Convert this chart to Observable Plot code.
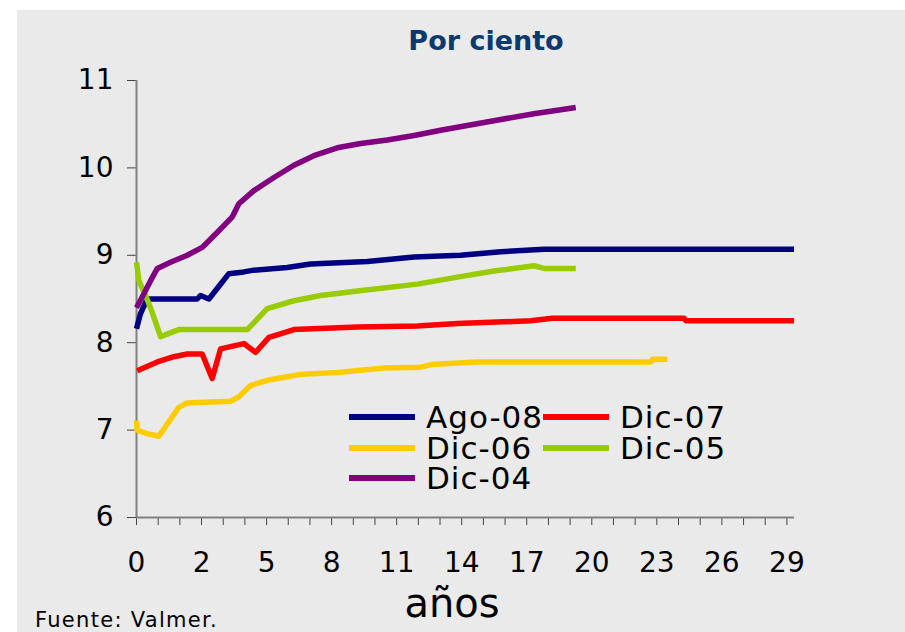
<!DOCTYPE html>
<html><head><meta charset="utf-8">
<script src="https://cdn.jsdelivr.net/npm/d3@7"></script>
<script src="https://cdn.jsdelivr.net/npm/@observablehq/plot@0.6"></script>
<style>
body{margin:0;background:#fff;font-family:"DejaVu Sans",sans-serif;}
#wrap{position:relative;width:905px;height:632px;overflow:hidden;}
#bg{position:absolute;left:17px;top:10px;right:0;bottom:0;background:#eaeaea;}
#chart{position:absolute;left:0;top:0;}
.t{position:absolute;white-space:nowrap;line-height:1;}
#title{left:0;width:972px;text-align:center;top:27px;font-size:27px;font-weight:bold;color:#0a3a6e;}
#xlab{left:0;width:904px;text-align:center;top:583px;font-size:40px;color:#000;}
#src{left:35px;top:610px;font-size:21px;letter-spacing:1.3px;color:#000;}
.lg{position:absolute;height:6px;width:66px;}
.lt{position:absolute;font-size:31px;letter-spacing:1px;line-height:26px;color:#000;white-space:nowrap;}
</style></head>
<body>
<div id="wrap">
<div id="bg"></div>
<div id="chart"></div>
<div class="t" id="title">Por ciento</div>
<div class="t" id="xlab">años</div>
<div class="t" id="src">Fuente: Valmer.</div>
<div id="legend"></div>
</div>
<script>
// Category positions on the x axis (31 categories, labels every 3rd)
const xTickLabels = ["0","2","5","8","11","14","17","20","23","26","29"];
const yTicks = [6,7,8,9,10,11];

const seriesNames = ["Ago-08","Dic-07","Dic-06","Dic-05","Dic-04"];
const seriesColors = ["#000080","#ff0000","#ffcc00","#99cc00","#800080"];

const ago08X = [0,0.18,0.49,2.80,2.95,3.34,3.72,4.26,4.95,5.41,6.95,8.03,10.65,12.80,14.95,16.80,18.80,30.33];
const ago08Y = [8.16,8.33,8.50,8.50,8.54,8.50,8.62,8.79,8.81,8.83,8.86,8.90,8.93,8.98,9.00,9.04,9.07,9.07];

const dic07X = [0.03,0.96,1.72,2.34,3.03,3.49,3.88,4.95,5.49,6.11,7.26,10.19,12.95,14.80,18.18,19.18,25.26,25.34,30.33];
const dic07Y = [7.68,7.78,7.84,7.87,7.87,7.59,7.93,7.99,7.89,8.06,8.15,8.18,8.19,8.22,8.25,8.28,8.28,8.25,8.25];

const dic06X = [0,0.03,0.49,1.03,1.42,1.95,2.34,4.34,4.72,5.26,6.03,6.95,7.65,9.26,11.41,13.11,13.57,15.72,23.72,23.80,24.49];
const dic06Y = [7.11,7.00,6.96,6.93,7.07,7.26,7.31,7.33,7.38,7.51,7.57,7.61,7.64,7.66,7.71,7.72,7.75,7.78,7.78,7.81,7.81];

const dic05X = [0,0.11,0.42,0.72,1.11,1.95,5.11,6.03,7.26,8.49,10.49,12.95,14.80,16.49,18.33,18.80,20.26];
const dic05Y = [8.92,8.71,8.54,8.35,8.07,8.15,8.15,8.39,8.48,8.54,8.60,8.67,8.75,8.82,8.88,8.85,8.85];

const dic04X = [0,0.34,0.65,0.96,1.57,2.34,3.03,3.72,4.42,4.72,5.41,6.34,7.26,8.18,9.26,10.34,11.57,12.80,14.03,16.03,18.33,20.26];
const dic04Y = [8.40,8.56,8.71,8.85,8.92,9.00,9.09,9.26,9.44,9.59,9.74,9.89,10.03,10.14,10.23,10.28,10.32,10.37,10.43,10.52,10.62,10.69];

const allX = [ago08X, dic07X, dic06X, dic05X, dic04X];
const allY = [ago08Y, dic07Y, dic06Y, dic05Y, dic04Y];
const data = [];
seriesNames.forEach((s, i) => allX[i].forEach((x, j) => data.push({serie: s, x, y: allY[i][j]})));

const chart = Plot.plot({
  width: 905, height: 632,
  marginLeft: 136, marginRight: 111, marginTop: 80, marginBottom: 115,
  style: {background: "transparent", fontFamily: "DejaVu Sans", color: "#000"},
  x: {domain: [0, 30.35], label: null},
  y: {domain: [6, 11], label: null},
  color: {domain: seriesNames, range: seriesColors},
  marks: [
    Plot.axisY({ticks: yTicks, tickSize: 9, tickPadding: 14, fontSize: 28, stroke: "#444", tickFormat: d => String(d), label: null}),
    Plot.axisX({ticks: d3.range(0, 31), tickSize: 8, tickPadding: 27, fontSize: 28, stroke: "#444",
      tickFormat: d => d % 3 === 0 ? xTickLabels[d / 3] : "", label: null}),
    Plot.ruleX([0], {stroke: "#808080", strokeWidth: 2}),
    Plot.ruleY([6], {stroke: "#808080", strokeWidth: 2}),
    Plot.line(data, {x: "x", y: "y", z: "serie", stroke: "serie", strokeWidth: 5.5, strokeLinecap: "butt"})
  ]
});
document.getElementById("chart").appendChild(chart);

// Legend (two columns, three rows)
const legend = document.getElementById("legend");
const cols = [349, 543], rows = [417, 448, 478];
seriesNames.forEach((s, i) => {
  const cx = cols[i % 2], cy = rows[Math.floor(i / 2)];
  const ln = document.createElement("div");
  ln.className = "lg"; ln.style.left = cx + "px"; ln.style.top = (cy - 3) + "px"; ln.style.background = seriesColors[i];
  legend.appendChild(ln);
  const tx = document.createElement("div");
  tx.className = "lt"; tx.textContent = s; tx.style.left = (cx + 77) + "px"; tx.style.top = (cy - 13) + "px";
  legend.appendChild(tx);
});
</script>
</body></html>
